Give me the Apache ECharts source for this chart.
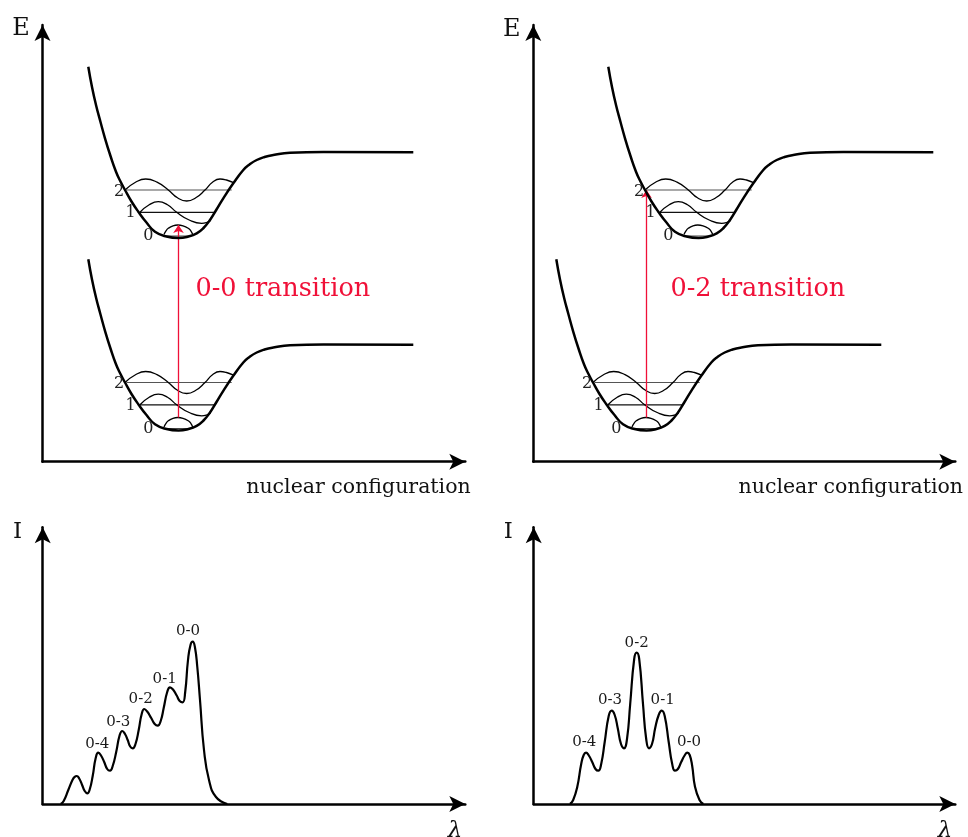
<!DOCTYPE html>
<html><head><meta charset="utf-8">
<script src="https://cdn.jsdelivr.net/npm/echarts@6/dist/echarts.min.js"></script>
<style>html,body{margin:0;padding:0;background:#fff}#c{width:968px;height:837px}</style>
</head><body><div id="c"></div>
<script>
// ---------- DATA ----------
// Potential energy curve (Morse-like), points relative to its minimum: [dx, dE]
const potentialCurve = [[-90.2,171.3],[-86.5,151],[-82.5,133],[-78,116],[-73.5,99.7],[-68,82],[-62.5,66.3],[-58,56.5],[-53.5,48],[-47,36.5],[-40.2,26.3],[-32,15.5],[-23.5,6.3],[-12,1.5],[0,0],[10,1.5],[18.2,4.7],[25,10],[31.5,18],[38,28.5],[44.8,39.7],[54.8,54.7],[64.8,68],[71,73.5],[78.2,78],[86,81],[94.8,83],[111.5,85.3],[144.8,86],[234.8,85.7]];
// Vibrational levels (relative to curve minimum)
const levelNames = ['0','1','2'];
const levelEnergy = [2, 25.7, 48];
const levelExtent = [[-15.2,13.2],[-38.5,36.5],[-51.8,53.2]];
const levelLabelAt = [[-30.2,2],[-47.8,24.7],[-59.5,46.3]];
// Vibrational wavefunctions (relative to curve minimum)
const wave0 = [[-14.5,3.5],[-12.5,7.2],[-10.2,9.7],[-5.5,12.2],[-0.8,13],[4.5,12.2],[9.8,9.7],[12.3,7.2],[14.2,3.5]];
const wave1 = [[-38.5,25.7],[-29.3,33.2],[-20.2,36.3],[-11,33.2],[-1.8,25.7],[10.7,18],[23.2,14.7],[28,15.5],[32,17.5]];
const wave2 = [[-53.5,48],[-43,55.8],[-32.8,59],[-21.5,55.8],[-10.2,48],[-1,40.2],[8.2,37],[17.3,40.2],[26.5,48],[34,55.8],[41.5,59],[48,58],[55,55.3]];
// Curve minima per top panel [nuclear coordinate, E]
const groundMin = [[136,31.2],[113.2,31.2]];
const excitedMin = [[136,223.7],[165.2,223.7]];
// Transitions
const transitionNames = ['0-0 transition','0-2 transition'];
const transitionArrows = [[[136,44.2],[136,236.7]],[[113.2,44.2],[113.2,271.7]]];
const transitionTextAt = [[152.5,172.7],[136.7,172.7]];
// Spectra [lambda, I]
const spectrumA = [[18,0],[21,3],[25.6,14],[30,24.5],[32,27.2],[34,28],[36.5,25.5],[39.3,19.3],[42,13],[44.6,10.7],[47,14.5],[50,28],[53,46],[55.6,51.3],[58.3,48.5],[61.5,42],[64.5,35],[67.3,33.3],[70,38],[73.5,52],[77,69],[79.6,73],[82.3,70],[85,64],[87.5,57.5],[90,55.7],[92.8,60],[96,74],[99,90],[101.6,95],[104.5,92.5],[108.5,86],[112,80],[115,78.3],[118,83],[121,96],[124.5,112],[127.3,116.7],[130.3,114.5],[134,108.5],[137,103],[140,101.7],[142.5,112],[145.3,144],[147.8,159],[150,162.3],[152.2,157],[154.6,137],[157.3,104],[161.3,54],[166.3,24],[173.3,7],[184.6,0]];
const spectrumALabels = [['0-0',145.3,173.3],['0-1',122,125],['0-2',98,105],['0-3',75.6,82.3],['0-4',54.6,59.7]];
const spectrumB = [[36.3,0],[39.5,4],[43.6,17.3],[47.5,40],[50,49],[52.3,51.3],[54.8,49],[58.5,42],[61.8,35],[64.6,33.3],[67.5,40],[71,62],[75,88],[78,93.3],[81,89],[84,76],[87.3,60],[90.3,55.7],[93.3,65],[96.5,100],[100.5,145],[103,151.3],[105.5,145],[109.3,100],[112.5,65],[115.3,55.7],[118.3,60],[121.5,76],[125,89],[128,93.3],[131,88],[135,62],[138.5,40],[141.3,33.3],[144.2,35],[147.5,42],[151.2,49],[153.6,51.3],[156,49],[158.5,38],[161.3,17.3],[165.8,4],[169.6,0]];
const spectrumBLabels = [['0-2',103,161.3],['0-3',76.3,104],['0-1',129,104],['0-4',50.6,61.7],['0-0',155.3,61.7]];
// Axis titles
const energyAxisName = 'E';
const configAxisName = 'nuclear configuration';
const intensityAxisName = 'I';
const wavelengthAxisName = 'λ';

// ---------- CHART ----------
const SERIF = 'DejaVu Serif';
const RED = 'rgb(240,16,56)';
const chart = echarts.init(document.getElementById('c'));
const grids = [
  {left:42.5, top:25, width:422.8, height:436.7},
  {left:533.3, top:25, width:422, height:436.7},
  {left:42.7, top:527.3, width:422.6, height:276.7},
  {left:533.7, top:527.3, width:421.6, height:276.7}
];
function axisCfg(i, max){
  return {type:'value', gridIndex:i, min:0, max:max,
    axisLine:{show:true, onZero:false, symbol:['none','arrow'], symbolSize:[12,16], lineStyle:{color:'#000', width:2.5}},
    axisTick:{show:false}, axisLabel:{show:false}, splitLine:{show:false}};
}
const xAxes = grids.map((g,i)=>axisCfg(i, g.width));
const yAxes = grids.map((g,i)=>axisCfg(i, g.height));
const shift = (pts, m) => pts.map(p => [p[0]+m[0], p[1]+m[1]]);
const series = [];
function lineS(i, data, opts){
  series.push(Object.assign({type:'line', xAxisIndex:i, yAxisIndex:i, data:data, showSymbol:false, symbol:'none', silent:true, animation:false,
    lineStyle:{color:'#000', width:1.3}}, opts||{}));
}
function textS(i, data, labelOpts){
  series.push({type:'scatter', xAxisIndex:i, yAxisIndex:i, data:data.map(d=>[d[1],d[2],d[0]]), symbolSize:1, silent:true, animation:false, z:6,
    itemStyle:{color:'rgba(0,0,0,0)', opacity:1},
    label:Object.assign({show:true, position:'inside', formatter:p=>p.value[2], color:'#1a1a1a', fontFamily:SERIF, fontSize:15,
      textBorderWidth:0, opacity:1}, labelOpts||{})});
}
const levelColors = ['#444','#111','#555'];
const waves = [wave0, wave1, wave2];
[0,1].forEach(p => {
  [groundMin[p], excitedMin[p]].forEach(m => {
    levelNames.forEach((n,k) => {
      lineS(p, [[m[0]+levelExtent[k][0], m[1]+levelEnergy[k]],[m[0]+levelExtent[k][1], m[1]+levelEnergy[k]]], {lineStyle:{color:levelColors[k], width:1.2}});
      lineS(p, shift(waves[k], m), {smooth:0.5});
    });
    textS(p, levelNames.map((n,k)=>[n, m[0]+levelLabelAt[k][0], m[1]+levelLabelAt[k][1]]), {fontSize:16, color:'#222'});
  });
  series.push({type:'lines', coordinateSystem:'cartesian2d', xAxisIndex:p, yAxisIndex:p, silent:true, animation:false,
    symbol:['none','arrow'], symbolSize:8,
    lineStyle:{color:RED, width:1.3, opacity:1},
    data:[{coords:transitionArrows[p]}], z:4});
  [groundMin[p], excitedMin[p]].forEach(m => {
    lineS(p, shift(potentialCurve, m), {smooth:0.5, lineStyle:{color:'#000', width:2.5}, z:5});
  });
  textS(p, [[transitionNames[p], transitionTextAt[p][0], transitionTextAt[p][1]]], {position:'right', distance:0, color:RED, fontSize:25.5});
});
lineS(2, spectrumA, {smooth:0.5, lineStyle:{color:'#000', width:2.2}});
textS(2, spectrumALabels, {fontSize:15});
lineS(3, spectrumB, {smooth:0.5, lineStyle:{color:'#000', width:2.2}});
textS(3, spectrumBLabels, {fontSize:15});

function gtext(t, x, y, align, size, italic){
  return {type:'text', x:x, y:y, silent:true, style:{text:t, fill:'#111', align:align, verticalAlign:'middle', textAlign:align, textVerticalAlign:'middle',
    font:(italic?'italic ':'')+size+'px "'+SERIF+'"'}};
}
const graphic = [
  gtext(energyAxisName, 21, 29, 'center', 24),
  gtext(energyAxisName, 511.7, 30, 'center', 24),
  gtext(configAxisName, 470.7, 488, 'right', 20.5),
  gtext(configAxisName, 963, 488, 'right', 20.5),
  gtext(intensityAxisName, 17.5, 532.5, 'center', 23),
  gtext(intensityAxisName, 508.3, 532.5, 'center', 23),
  gtext(wavelengthAxisName, 455, 831, 'center', 23, true),
  gtext(wavelengthAxisName, 945, 831, 'center', 23, true)
];
chart.setOption({animation:false, backgroundColor:'#fff', grid:grids, xAxis:xAxes, yAxis:yAxes, series:series, graphic:graphic});
</script></body></html>
